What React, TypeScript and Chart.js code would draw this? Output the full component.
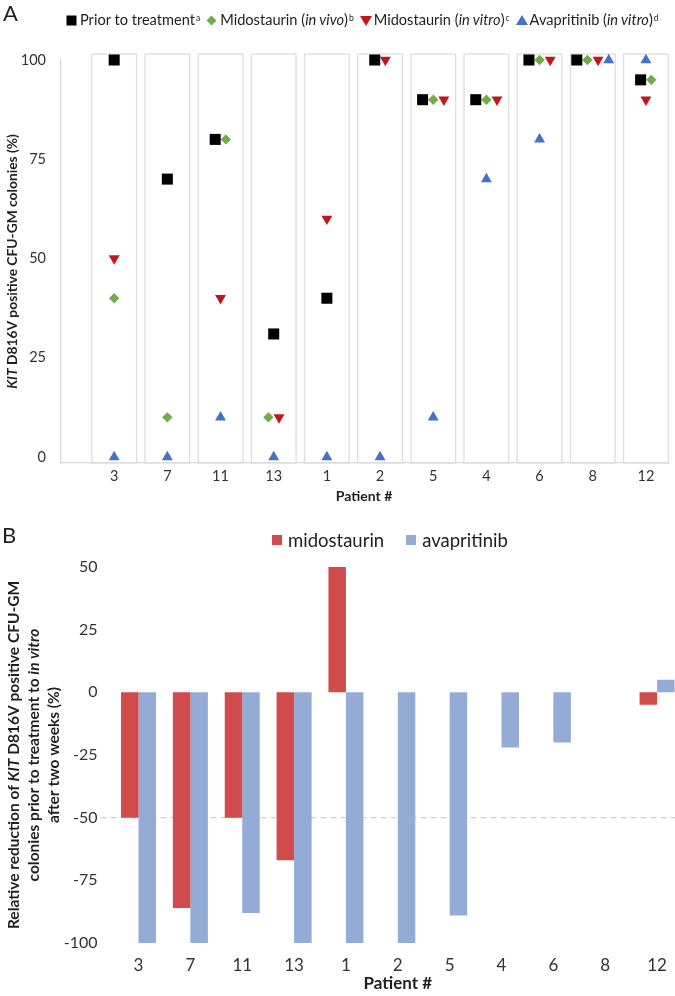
import React, { useEffect, useRef } from 'react';
import { Chart, registerables } from 'chart.js';

Chart.register(...registerables);

// ---------------- data ----------------
const patients = ['3', '7', '11', '13', '1', '2', '5', '4', '6', '8', '12'];

// Panel A: KIT D816V positive CFU-GM colonies (%)
const priorToTreatment = [100, 70, 80, 31, 40, 100, 90, 90, 100, 100, 95];
const midostaurinInVivo = [40, 10, 80, 10, null, null, 90, 90, 100, 100, 95];
const midostaurinInVitro = [50, null, 40, 10, 60, 100, 90, 90, 100, 100, 90];
const avapritinibInVitro = [0, 0, 10, 0, 0, 0, 10, 70, 80, 100, 100];
const yTicksA = [0, 25, 50, 75, 100];

// Panel B: relative reduction (%)
const midostaurinReduction = [-50, -86, -50, -67, 50, 0, 0, 0, 0, 0, -5];
const avapritinibReduction = [-100, -100, -88, -100, -100, -100, -89, -22, -20, 0, 5];
const yTicksB = [-100, -75, -50, -25, 0, 25, 50];
const referenceLineB = -50;

// ---------------- styles ----------------
const FONT = 'Lato, "Open Sans", sans-serif';
const TEXT = '#1f1f1f';
const TICK = '#333333';
const AXIS = '#d9d9d9';
const BLACK = '#000000';
const GREEN = '#70AD47';
const DARKRED = '#C0161C';
const BLUE = '#4472C4';
const BAR_RED = '#D04C4C';
const BAR_BLUE = '#94ABD6';
const SPREAD = 0.2; // horizontal separation of coinciding markers (x units)
const FRAME_TOP = 101.5;
const FRAME_HALF = 0.42;

type Seg = { text: string; italic?: boolean };

const titleA: Seg[][] = [[{ text: 'KIT', italic: true }, { text: ' D816V positive CFU-GM colonies (%)' }]];
const titleB: Seg[][] = [
  [{ text: 'Relative reduction of ' }, { text: 'KIT', italic: true }, { text: ' D816V positive CFU-GM' }],
  [{ text: 'colonies prior to treatment to ' }, { text: 'in vitro', italic: true }],
  [{ text: 'after two weeks (%)' }],
];

function drawRotatedRich(ctx: CanvasRenderingContext2D, lines: Seg[][], cx: number, cy: number, size: number, lh: number) {
  ctx.save();
  ctx.translate(cx, cy);
  ctx.rotate(-Math.PI / 2);
  ctx.fillStyle = TEXT;
  ctx.textBaseline = 'middle';
  ctx.textAlign = 'left';
  const fontFor = (s: Seg) => `${s.italic ? 'italic ' : ''}bold ${size}px ${FONT}`;
  const n = lines.length;
  lines.forEach((segs, k) => {
    let w = 0;
    segs.forEach((s) => {
      ctx.font = fontFor(s);
      w += ctx.measureText(s.text).width;
    });
    let x = -w / 2;
    const y = (k - (n - 1) / 2) * lh;
    segs.forEach((s) => {
      ctx.font = fontFor(s);
      ctx.fillText(s.text, x, y);
      x += ctx.measureText(s.text).width;
    });
  });
  ctx.restore();
}

// spread markers that share the same value within one patient column
function buildPoints(series: (number | null)[][]) {
  const out: { x: number; y: number }[][] = series.map(() => []);
  patients.forEach((_, i) => {
    const groups = new Map<number, number[]>();
    series.forEach((s, k) => {
      const v = s[i];
      if (v === null || v === undefined) return;
      if (!groups.has(v)) groups.set(v, []);
      groups.get(v)!.push(k);
    });
    groups.forEach((ks, v) => {
      ks.forEach((k, j) => {
        out[k].push({ x: i + 1 + (j - (ks.length - 1) / 2) * SPREAD, y: v });
      });
    });
  });
  return out;
}

const framesPlugin = {
  id: 'columnFrames',
  beforeDatasetsDraw(chart: any) {
    const { ctx, scales } = chart;
    const x = scales.x;
    const y = scales.y;
    const top = y.getPixelForValue(FRAME_TOP);
    const bottom = y.getPixelForValue(y.min);
    ctx.save();
    ctx.strokeStyle = '#dedede';
    ctx.lineWidth = 1.3;
    patients.forEach((_, i) => {
      const l = x.getPixelForValue(i + 1 - FRAME_HALF);
      const r = x.getPixelForValue(i + 1 + FRAME_HALF);
      ctx.strokeRect(l, top, r - l, bottom - top);
    });
    ctx.restore();
  },
  afterDraw(chart: any) {
    const { ctx, chartArea } = chart;
    drawRotatedRich(ctx, titleA, 13, (chartArea.top + chartArea.bottom) / 2, 13.8, 16);
  },
};

const refLinePlugin = {
  id: 'refLine',
  beforeDatasetsDraw(chart: any) {
    const { ctx, chartArea, scales } = chart;
    const yy = scales.y.getPixelForValue(referenceLineB);
    ctx.save();
    ctx.strokeStyle = '#cfcfcf';
    ctx.lineWidth = 1.3;
    ctx.setLineDash([6, 4]);
    ctx.beginPath();
    ctx.moveTo(chartArea.left - 12, yy);
    ctx.lineTo(chartArea.right, yy);
    ctx.stroke();
    ctx.restore();
  },
  afterDraw(chart: any) {
    const { ctx, chartArea } = chart;
    drawRotatedRich(ctx, titleB, 34, (chartArea.top + chartArea.bottom) / 2, 15.5, 20);
  },
};

function ChartA() {
  const ref = useRef<HTMLCanvasElement>(null);
  useEffect(() => {
    const pts = buildPoints([priorToTreatment, midostaurinInVivo, midostaurinInVitro, avapritinibInVitro]);
    const chart = new Chart(ref.current!, {
      type: 'scatter',
      data: {
        datasets: [
          { label: 'Prior to treatment', data: pts[0], pointStyle: 'rect', pointRadius: 7.8, backgroundColor: BLACK, borderColor: BLACK, borderWidth: 0, clip: false } as any,
          { label: 'Midostaurin (in vivo)', data: pts[1], pointStyle: 'rectRot', pointRadius: 5.2, backgroundColor: GREEN, borderColor: GREEN, borderWidth: 0, clip: false } as any,
          { label: 'Midostaurin (in vitro)', data: pts[2], pointStyle: 'triangle', rotation: 180, pointRadius: 6.3, backgroundColor: DARKRED, borderColor: DARKRED, borderWidth: 0, clip: false } as any,
          { label: 'Avapritinib (in vitro)', data: pts[3], pointStyle: 'triangle', pointRadius: 6.3, backgroundColor: BLUE, borderColor: BLUE, borderWidth: 0, clip: false } as any,
        ],
      },
      options: {
        animation: false,
        responsive: false,
        layout: { padding: { top: 60, right: 0, left: 0, bottom: 0 } },
        plugins: { legend: { display: false }, tooltip: { enabled: false } },
        scales: {
          x: {
            type: 'linear',
            min: 0,
            max: 11.4,
            grid: { display: false, drawTicks: false },
            border: { display: true, color: AXIS, width: 1.3 },
            afterBuildTicks: (axis: any) => {
              axis.ticks = patients.map((_, i) => ({ value: i + 1 }));
            },
            afterFit: (s: any) => {
              s.height = 42;
            },
            ticks: {
              font: { family: FONT, size: 14.5 },
              color: TICK,
              padding: 5,
              callback: (v: any) => patients[Math.round(v) - 1] ?? '',
            },
            title: { display: true, text: 'Patient #', font: { family: FONT, size: 14, weight: 'bold' }, color: TEXT, padding: { top: 0, bottom: 0 } },
          },
          y: {
            min: -1.5,
            max: 100,
            grid: { display: false, drawTicks: false },
            border: { display: true, color: AXIS, width: 1.3 },
            afterBuildTicks: (axis: any) => {
              axis.ticks = yTicksA.map((v) => ({ value: v }));
            },
            afterFit: (s: any) => {
              s.width = 61;
            },
            ticks: { font: { family: FONT, size: 14.5 }, color: TICK, padding: 15 },
          },
        },
      } as any,
      plugins: [framesPlugin],
    });
    return () => chart.destroy();
  }, []);
  return <canvas ref={ref} width={675} height={505} style={{ position: 'absolute', left: 0, top: 0, width: 675, height: 505 }} />;
}

function ChartB() {
  const ref = useRef<HTMLCanvasElement>(null);
  useEffect(() => {
    const chart = new Chart(ref.current!, {
      type: 'bar',
      data: {
        labels: patients,
        datasets: [
          { label: 'midostaurin', data: midostaurinReduction, backgroundColor: BAR_RED, categoryPercentage: 0.675, barPercentage: 1 },
          { label: 'avapritinib', data: avapritinibReduction, backgroundColor: BAR_BLUE, categoryPercentage: 0.675, barPercentage: 1 },
        ],
      },
      options: {
        animation: false,
        responsive: false,
        layout: { padding: { top: 47, right: 1, left: 0, bottom: 0 } },
        plugins: { legend: { display: false }, tooltip: { enabled: false } },
        scales: {
          x: {
            grid: { display: false, drawTicks: false },
            border: { display: false },
            afterFit: (s: any) => {
              s.height = 53;
            },
            ticks: { font: { family: FONT, size: 17 }, color: TICK, padding: 12 },
            title: { display: true, text: 'Patient #', font: { family: FONT, size: 17, weight: 'bold' }, color: TEXT, padding: { top: 0, bottom: 2 } },
          },
          y: {
            min: -100,
            max: 50,
            grid: { display: false, drawTicks: false },
            border: { display: false },
            afterBuildTicks: (axis: any) => {
              axis.ticks = yTicksB.map((v) => ({ value: v }));
            },
            afterFit: (s: any) => {
              s.width = 112.6;
            },
            ticks: { font: { family: FONT, size: 16 }, color: TICK, padding: 15 },
          },
        },
      } as any,
      plugins: [refLinePlugin],
    });
    return () => chart.destroy();
  }, []);
  return <canvas ref={ref} width={684} height={476} style={{ position: 'absolute', left: 0, top: 520, width: 684, height: 476 }} />;
}

function Marker({ shape, color }: { shape: string; color: string }) {
  let el: any = null;
  if (shape === 'square') el = <rect x={0.5} y={0.5} width={10} height={10} fill={color} />;
  else if (shape === 'diamond') el = <polygon points="5.5,0.5 10.5,5.5 5.5,10.5 0.5,5.5" fill={color} />;
  else if (shape === 'down') el = <polygon points="0,1 12,1 6,11" fill={color} />;
  else el = <polygon points="6,0 12,10 0,10" fill={color} />;
  return (
    <svg width={12} height={11} style={{ display: 'block', marginRight: 2 }}>
      {el}
    </svg>
  );
}

const legendAItems = [
  { shape: 'square', color: BLACK, parts: [{ text: 'Prior to treatment' }] as Seg[], sup: 'a' },
  { shape: 'diamond', color: GREEN, parts: [{ text: 'Midostaurin (' }, { text: 'in vivo', italic: true }, { text: ')' }] as Seg[], sup: 'b' },
  { shape: 'down', color: DARKRED, parts: [{ text: 'Midostaurin (' }, { text: 'in vitro', italic: true }, { text: ')' }] as Seg[], sup: 'c' },
  { shape: 'up', color: BLUE, parts: [{ text: 'Avapritinib (' }, { text: 'in vitro', italic: true }, { text: ')' }] as Seg[], sup: 'd' },
];

const legendBItems = [
  { label: 'midostaurin', color: BAR_RED },
  { label: 'avapritinib', color: BAR_BLUE },
];

export default function App() {
  return (
    <div
      style={{
        position: 'fixed',
        left: 0,
        top: 0,
        width: 675,
        height: 996,
        overflow: 'hidden',
        background: '#ffffff',
        fontFamily: FONT,
      }}
    >
      <ChartA />
      <ChartB />
      <div style={{ position: 'absolute', left: 3, top: 0, fontSize: 22, color: TEXT, lineHeight: '26px' }}>A</div>
      <div style={{ position: 'absolute', left: 2, top: 522, fontSize: 22, color: TEXT, lineHeight: '26px' }}>B</div>
      <div
        style={{
          position: 'absolute',
          left: 66,
          top: 10,
          display: 'flex',
          alignItems: 'center',
          whiteSpace: 'nowrap',
          fontSize: 14.6,
          color: TEXT,
          lineHeight: '20px',
        }}
      >
        {legendAItems.map((it, idx) => (
          <div key={idx} style={{ display: 'flex', alignItems: 'center', marginRight: 6 }}>
            <Marker shape={it.shape} color={it.color} />
            <span>
              {it.parts.map((p, j) => (
                <span key={j} style={{ fontStyle: p.italic ? 'italic' : 'normal' }}>
                  {p.text}
                </span>
              ))}
              <sup style={{ fontSize: 8.5, verticalAlign: 'top', position: 'relative', top: -2, marginLeft: 1 }}>{it.sup}</sup>
            </span>
          </div>
        ))}
      </div>
      <div
        style={{
          position: 'absolute',
          left: 272,
          top: 530,
          display: 'flex',
          alignItems: 'center',
          whiteSpace: 'nowrap',
          fontSize: 18.5,
          color: TEXT,
          lineHeight: '20px',
        }}
      >
        {legendBItems.map((it, idx) => (
          <div key={idx} style={{ display: 'flex', alignItems: 'center', marginRight: 22 }}>
            <div style={{ width: 10, height: 10, background: it.color, marginRight: 6 }} />
            <span>{it.label}</span>
          </div>
        ))}
      </div>
    </div>
  );
}
